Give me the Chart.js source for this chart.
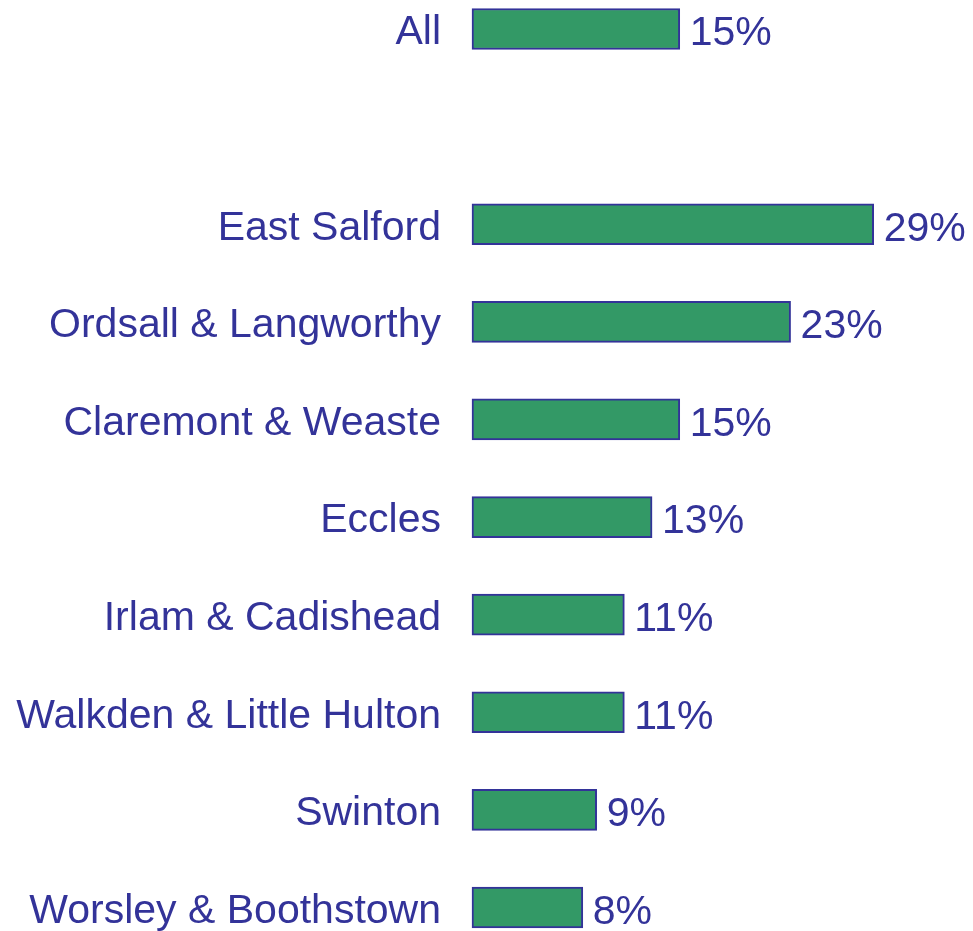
<!DOCTYPE html>
<html>
<head>
<meta charset="utf-8">
<script src="https://cdn.jsdelivr.net/npm/chart.js@4.4.1/dist/chart.umd.min.js"></script>
<style>
  html, body { margin:0; padding:0; background:#fff; }
  #wrap { width:973px; height:931px; position:relative; }
</style>
</head>
<body>
<div id="wrap"><canvas id="chart"></canvas></div>
<script>
// areas, top to bottom ('' is the blank gap row under All)
const areas = ['All', '', 'East Salford', 'Ordsall & Langworthy', 'Claremont & Weaste', 'Eccles',
  'Irlam & Cadishead', 'Walkden & Little Hulton', 'Swinton', 'Worsley & Boothstown'];
const shares = [15, null, 29, 23, 15, 13, 11, 11, 9, 8];
const shareLabels = ['15%', '', '29%', '23%', '15%', '13%', '11%', '11%', '9%', '8%'];

const navy = '#333399';
const green = '#339966';
const font = {family:'"Liberation Sans", Arial, Helvetica, sans-serif', size:41, lineHeight:1};

// value labels at the end of each bar
const valueLabels = {
  id:'valueLabels',
  afterDatasetsDraw(chart){
    const ctx = chart.ctx;
    const meta = chart.getDatasetMeta(0);
    ctx.save();
    ctx.fillStyle = navy;
    ctx.font = font.size + 'px ' + font.family;
    ctx.textAlign = 'left';
    ctx.textBaseline = 'middle';
    meta.data.forEach((bar, i) => {
      if(shares[i] == null) return;
      ctx.fillText(shareLabels[i], bar.x + 10, bar.y + 5);
    });
    ctx.restore();
  }
};

new Chart(document.getElementById('chart').getContext('2d'), {
  type:'bar',
  data:{
    labels:areas,
    datasets:[{
      data:shares,
      backgroundColor:green,
      borderColor:navy,
      borderWidth:2,
      borderSkipped:false,
      barThickness:41,
      clip:false
    }]
  },
  options:{
    indexAxis:'y',
    responsive:true,
    maintainAspectRatio:false,
    animation:false,
    layout:{padding:{top:29, bottom:23, left:0, right:0}},
    plugins:{legend:{display:false}, tooltip:{enabled:false}},
    scales:{
      x:{display:false, min:0, max:36.17},
      y:{
        offset:false,
        grid:{display:false, drawTicks:true, tickLength:28},
        border:{display:false},
        ticks:{color:navy, font:font, padding:3, autoSkip:false, labelOffset:4},
        afterFit(scale){ scale.width = 472; }
      }
    }
  },
  plugins:[valueLabels]
});
</script>
</body>
</html>
